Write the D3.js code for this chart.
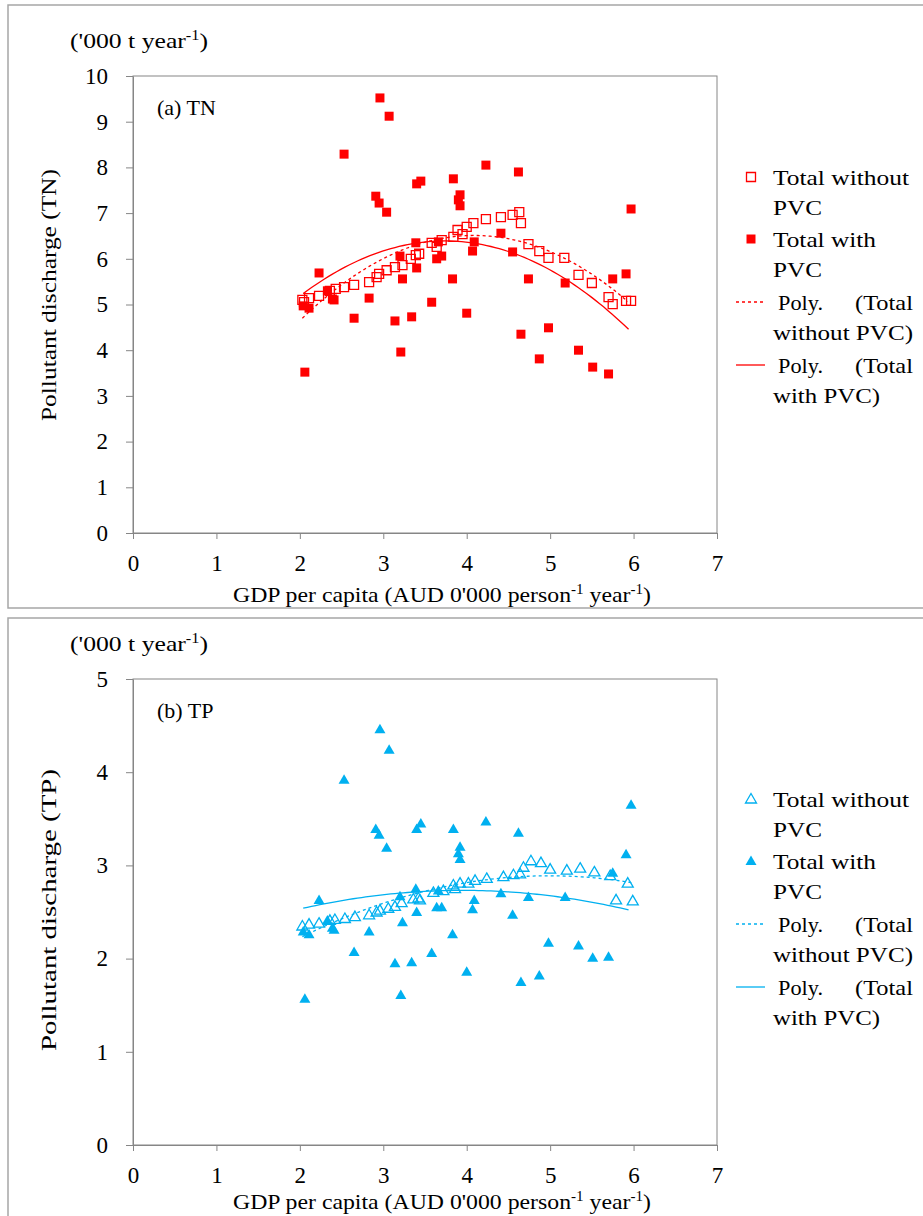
<!DOCTYPE html>
<meta charset="utf-8" />
<style>
  body { margin: 0; background: #fff; }
  svg text { font-family: "Liberation Serif", "DejaVu Serif", serif; fill: #000; }
</style>
<body>
<svg id="chart" width="923" height="1216"></svg>
<script src="https://cdn.jsdelivr.net/npm/d3@7"></script>
<script>
// GDP per capita (AUD '0000) and discharges, total with PVC
const gdpWith = [2.96, 3.07, 2.53, 4.23, 4.62, 3.84, 3.45, 3.40, 2.91, 2.95, 3.04, 3.92, 3.90, 3.92,
  5.97, 2.23, 3.39, 3.66, 4.09, 3.20, 4.07, 3.64, 3.70, 3.40, 3.23, 3.83, 2.83, 2.33, 2.39, 2.41,
  2.04, 2.11, 3.58, 2.65, 3.14, 3.34, 4.00, 4.41, 4.55, 4.74, 5.18, 5.75, 5.91, 4.98, 3.21, 2.06,
  4.65, 4.87, 5.34, 5.51, 5.70];
const tnWith = [9.52, 9.12, 8.29, 8.05, 7.90, 7.75, 7.70, 7.64, 7.37, 7.22, 7.02, 7.40, 7.29, 7.16,
  7.09, 5.69, 6.35, 6.37, 6.37, 6.06, 6.17, 6.00, 6.06, 5.80, 5.56, 5.56, 5.14, 5.30, 5.12, 5.10,
  4.97, 4.92, 5.05, 4.70, 4.64, 4.73, 4.81, 6.56, 6.15, 5.56, 5.47, 5.56, 5.67, 4.49, 3.96, 3.52,
  4.35, 3.81, 4.00, 3.63, 3.48];
const tpWith = [4.46, 4.24, 3.92, 3.47, 3.35, 3.39, 3.45, 3.39, 3.39, 3.33, 3.19, 3.20, 3.13, 3.07,
  3.65, 2.63, 2.75, 2.73, 2.63, 2.67, 2.53, 2.55, 2.55, 2.50, 2.39, 2.26, 2.29, 2.41, 2.33, 2.31,
  2.29, 2.26, 2.06, 2.07, 1.95, 1.96, 1.86, 2.70, 2.47, 2.66, 2.66, 2.92, 3.12, 2.17, 1.61, 1.57,
  1.75, 1.82, 2.14, 2.01, 2.02];

// total without PVC
const gdpNoTN = [2.03, 2.05, 2.11, 2.23, 2.36, 2.43, 2.53, 2.65, 2.83, 2.92, 2.95, 3.04, 3.14, 3.23,
  3.33, 3.39, 3.43, 3.58, 3.64, 3.70, 3.84, 3.89, 3.95, 4.00, 4.08, 4.23, 4.41, 4.55, 4.63, 4.65,
  4.74, 4.87, 4.98, 5.17, 5.34, 5.50, 5.70, 5.75, 5.91, 5.97];
const tnNo = [5.10, 5.05, 5.14, 5.19, 5.30, 5.34, 5.38, 5.43, 5.49, 5.60, 5.67, 5.75, 5.82, 5.86,
  6.00, 6.08, 6.11, 6.35, 6.26, 6.41, 6.48, 6.63, 6.54, 6.70, 6.78, 6.87, 6.91, 6.96, 7.02, 6.78,
  6.32, 6.17, 6.02, 6.02, 5.65, 5.47, 5.16, 5.01, 5.08, 5.08];
const gdpNoTP = [2.03, 2.11, 2.23, 2.36, 2.42, 2.54, 2.66, 2.83, 2.92, 2.96, 3.06, 3.14, 3.22, 3.36,
  3.42, 3.44, 3.60, 3.72, 3.86, 3.84, 3.92, 4.02, 4.10, 4.24, 4.44, 4.56, 4.64, 4.68, 4.77, 4.89,
  5.00, 5.20, 5.36, 5.53, 5.72, 5.79, 5.93, 5.99];
const tpNo = [2.35, 2.37, 2.38, 2.41, 2.42, 2.43, 2.45, 2.47, 2.50, 2.52, 2.54, 2.56, 2.60, 2.64,
  2.65, 2.63, 2.71, 2.73, 2.75, 2.79, 2.81, 2.81, 2.84, 2.86, 2.88, 2.90, 2.91, 2.98, 3.05, 3.03,
  2.96, 2.95, 2.97, 2.93, 2.89, 2.63, 2.81, 2.62];

const xTicks = [0, 1, 2, 3, 4, 5, 6, 7];
const tnTicks = [0, 1, 2, 3, 4, 5, 6, 7, 8, 9, 10];
const tpTicks = [0, 1, 2, 3, 4, 5];

const svg = d3.select("#chart");
const gray = "#868686";
const serif = "'Liberation Serif', 'DejaVu Serif', serif";

// least squares 2nd order polynomial, same as excel "Poly." trendline
function polyFit(xs, ys) {
  let s = [0, 0, 0, 0, 0], t = [0, 0, 0];
  xs.forEach((x, i) => {
    for (let k = 0; k < 5; k++) s[k] += Math.pow(x, k);
    for (let k = 0; k < 3; k++) t[k] += ys[i] * Math.pow(x, k);
  });
  let m = [[s[0], s[1], s[2], t[0]], [s[1], s[2], s[3], t[1]], [s[2], s[3], s[4], t[2]]];
  for (let i = 0; i < 3; i++) {
    for (let j = i + 1; j < 3; j++) {
      let f = m[j][i] / m[i][i];
      for (let k = i; k < 4; k++) m[j][k] -= f * m[i][k];
    }
  }
  let c = [0, 0, 0];
  for (let i = 2; i >= 0; i--) {
    let v = m[i][3];
    for (let k = i + 1; k < 3; k++) v -= m[i][k] * c[k];
    c[i] = v / m[i][i];
  }
  return (x) => c[0] + c[1] * x + c[2] * x * x;
}

function squareSym() { return d3.symbol().type(d3.symbolSquare).size(81)(); }
function triPath() { return "M0,-5.5L5.5,4L-5.5,4Z"; }

function drawPanel(p) {
  const g = svg.append("g").attr("font-family", serif);
  // panel border
  g.append("rect").attr("x", 8).attr("y", p.boxTop).attr("width", 930).attr("height", p.boxH)
    .attr("fill", "none").attr("stroke", "#a6a6a6").attr("stroke-width", 1.5);

  const x = d3.scaleLinear().domain([0, 7]).range([133, 717]);
  const y = d3.scaleLinear().domain([0, p.yMax]).range([p.y0, p.y1]);

  // plot area outline
  g.append("rect").attr("x", 133).attr("y", p.y1).attr("width", 584).attr("height", p.y0 - p.y1)
    .attr("fill", "none").attr("stroke", gray).attr("stroke-width", 1);

  const fmt = d3.format("d");
  const ya = g.append("g").attr("transform", "translate(133,0)")
    .call(d3.axisLeft(y).tickValues(p.yTicks).tickFormat(fmt).tickSize(7).tickSizeOuter(0));
  const xa = g.append("g").attr("transform", `translate(0,${p.y0})`)
    .call(d3.axisBottom(x).tickValues(xTicks).tickFormat(fmt).tickSize(6).tickSizeOuter(0));
  [ya, xa].forEach((a) => {
    a.attr("font-family", serif);
    a.selectAll("path, line").attr("stroke", gray);
    a.selectAll("text").attr("font-size", "23px").attr("fill", "#000");
  });
  xa.selectAll("text").attr("dy", "0.71em").attr("y", 22);
  ya.selectAll("text").attr("x", -25);

  // unit label
  const u = g.append("text").attr("x", 70).attr("y", p.y1 - 28).attr("font-size", "22px")
    .attr("textLength", 138).attr("lengthAdjust", "spacingAndGlyphs");
  u.append("tspan").text("('000 t year");
  u.append("tspan").attr("font-size", "14px").attr("dy", -8).text("-1");
  u.append("tspan").attr("dy", 8).text(")");

  g.append("text").attr("x", 157).attr("y", p.y1 + 39).attr("font-size", "22px").text(p.tag);

  // y title
  g.append("text").attr("transform", `translate(56,${p.yTitleC}) rotate(-90)`)
    .attr("text-anchor", "middle").attr("font-size", "22px")
    .attr("textLength", p.yTitleLen).attr("lengthAdjust", "spacingAndGlyphs").text(p.yTitle);

  // x title
  const xt = g.append("text").attr("x", 233).attr("y", p.y0 + p.xTitleOff).attr("font-size", "22px")
    .attr("textLength", 418).attr("lengthAdjust", "spacingAndGlyphs");
  xt.append("tspan").text("GDP per capita (AUD 0'000 person");
  xt.append("tspan").attr("font-size", "14px").attr("dy", -8).text("-1");
  xt.append("tspan").attr("dy", 8).text(" year");
  xt.append("tspan").attr("font-size", "14px").attr("dy", -8).text("-1");
  xt.append("tspan").attr("dy", 8).text(")");

  // trend lines
  const line = d3.line().x((d) => x(d[0])).y((d) => y(d[1]));
  [[p.noX, p.noY, "3,3"], [gdpWith, p.withY, null]].forEach(([xs, ys, dash]) => {
    const f = polyFit(xs, ys);
    const pts = d3.range(d3.min(xs), d3.max(xs) + 0.001, 0.05).map((v) => [v, f(v)]);
    g.append("path").attr("d", line(pts)).attr("fill", "none").attr("stroke", p.color)
      .attr("stroke-width", 1.3).attr("stroke-dasharray", dash);
  });

  const shape = p.tri ? triPath() : squareSym();
  // open markers
  g.append("g").selectAll("path").data(p.noX.map((v, i) => [v, p.noY[i]])).join("path")
    .attr("d", shape).attr("transform", (d) => `translate(${x(d[0])},${y(d[1])})`)
    .attr("fill", "none").attr("stroke", p.color).attr("stroke-width", 1.3);
  // filled markers
  g.append("g").selectAll("path").data(gdpWith.map((v, i) => [v, p.withY[i]])).join("path")
    .attr("d", shape).attr("transform", (d) => `translate(${x(d[0])},${y(d[1])})`)
    .attr("fill", p.color);

  // legend
  const L = p.legTop;
  const lg = g.append("g");
  const txt = (tx, ty, s, len, anchor) => {
    const t = lg.append("text").attr("x", tx).attr("y", ty).attr("font-size", "22px").text(s);
    if (len) t.attr("textLength", len).attr("lengthAdjust", "spacingAndGlyphs");
    if (anchor) t.attr("text-anchor", anchor);
  };
  lg.append("path").attr("d", shape).attr("transform", `translate(751,${L})`)
    .attr("fill", "none").attr("stroke", p.color).attr("stroke-width", 1.3);
  txt(773, L + 8, "Total without", 136);
  txt(773, L + 38, "PVC", 49);
  lg.append("path").attr("d", shape).attr("transform", `translate(751,${L + 62})`).attr("fill", p.color);
  txt(773, L + 70, "Total with", 103);
  txt(773, L + 100, "PVC", 49);
  lg.append("line").attr("x1", 736).attr("x2", 765).attr("y1", L + 125).attr("y2", L + 125)
    .attr("stroke", p.color).attr("stroke-width", 1.3).attr("stroke-dasharray", "3,3");
  txt(778, L + 133, "Poly.", 45);
  txt(913, L + 133, "(Total", 58, "end");
  txt(773, L + 163, "without PVC)", 140);
  lg.append("line").attr("x1", 736).attr("x2", 765).attr("y1", L + 188).attr("y2", L + 188)
    .attr("stroke", p.color).attr("stroke-width", 1.3);
  txt(778, L + 196, "Poly.", 45);
  txt(913, L + 196, "(Total", 58, "end");
  txt(773, L + 226, "with PVC)", 107);
}

drawPanel({
  boxTop: 5, boxH: 603, yMax: 10, y0: 533, y1: 76, yTicks: tnTicks, tag: "(a) TN",
  yTitle: "Pollutant discharge (TN)", yTitleC: 295, yTitleLen: 252, xTitleOff: 69,
  noX: gdpNoTN, noY: tnNo, withY: tnWith, color: "#ff0000", tri: false, legTop: 177
});
drawPanel({
  boxTop: 618, boxH: 620, yMax: 5, y0: 1145, y1: 679, yTicks: tpTicks, tag: "(b) TP",
  yTitle: "Pollutant discharge (TP)", yTitleC: 910, yTitleLen: 282, xTitleOff: 64,
  noX: gdpNoTP, noY: tpNo, withY: tpWith, color: "#00b0f0", tri: true, legTop: 799
});
</script>
</body>
